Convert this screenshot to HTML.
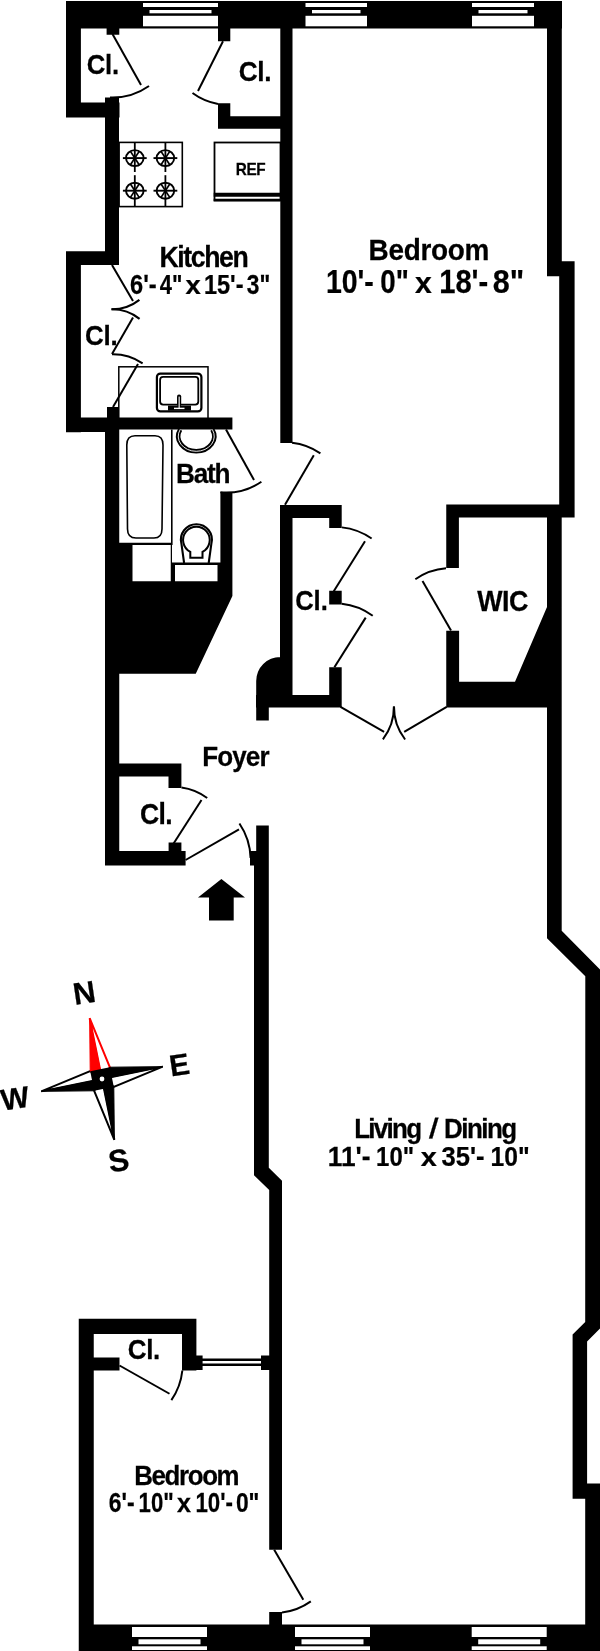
<!DOCTYPE html>
<html><head><meta charset="utf-8"><style>
html,body{margin:0;padding:0;background:#fff;}
svg{display:block;will-change:transform;}
text{font-family:"Liberation Sans",sans-serif;font-weight:bold;fill:#000;stroke:#000;stroke-width:0.25px;}
</style></head><body>
<svg width="600" height="1651" viewBox="0 0 600 1651">
<rect x="0" y="0" width="600" height="1651" fill="#fff"/>
<path d="M66.00,1.00 L562.00,1.00 L562.00,28.50 L66.00,28.50Z M66.00,1.00 L80.90,1.00 L80.90,117.50 L66.00,117.50Z M66.00,102.50 L119.50,102.50 L119.50,117.50 L66.00,117.50Z M106.60,28.00 L119.30,28.00 L119.30,34.70 L106.60,34.70Z M105.00,97.50 L119.00,97.50 L119.00,265.00 L105.00,265.00Z M66.00,251.25 L119.00,251.25 L119.00,265.00 L66.00,265.00Z M66.00,251.25 L80.90,251.25 L80.90,432.30 L66.00,432.30Z M66.00,417.50 L232.40,417.50 L232.40,429.50 L66.00,429.50Z M66.00,417.50 L119.00,417.50 L119.00,432.00 L66.00,432.00Z M107.00,407.00 L119.00,407.00 L119.00,417.50 L107.00,417.50Z M105.00,417.50 L119.25,417.50 L119.25,865.50 L105.00,865.50Z M119.00,543.00 L172.00,543.00 L172.00,562.50 L220.40,562.50 L220.40,492.00 L232.40,492.00 L232.40,596.00 L195.75,673.75 L119.00,673.75Z M218.00,28.00 L230.30,28.00 L230.30,41.20 L218.00,41.20Z M218.00,103.30 L230.30,103.30 L230.30,128.70 L218.00,128.70Z M218.00,116.20 L292.50,116.20 L292.50,128.70 L218.00,128.70Z M280.30,1.00 L292.50,1.00 L292.50,443.00 L280.30,443.00Z M280.00,505.00 L292.50,505.00 L292.50,707.50 L280.00,707.50Z M280.00,505.00 L341.70,505.00 L341.70,518.00 L280.00,518.00Z M329.20,505.00 L341.70,505.00 L341.70,528.00 L329.20,528.00Z M329.20,590.80 L341.70,590.80 L341.70,604.60 L329.20,604.60Z M329.20,667.20 L341.70,667.20 L341.70,707.50 L329.20,707.50Z M256.00,695.00 L341.70,695.00 L341.70,707.50 L256.00,707.50Z M256.2,707.5 L256.2,681 A24,24 0 0 1 280.2,657 L280.2,707.5 Z M256.20,700.00 L268.80,700.00 L268.80,720.50 L256.20,720.50Z M547.00,1.00 L561.80,1.00 L561.80,276.20 L547.00,276.20Z M559.20,261.20 L574.60,261.20 L574.60,517.50 L559.20,517.50Z M446.25,504.50 L574.40,504.50 L574.40,517.60 L446.25,517.60Z M446.25,504.50 L458.90,504.50 L458.90,568.00 L446.25,568.00Z M446.25,630.80 L459.10,630.80 L459.10,707.50 L446.25,707.50Z M446.25,681.80 L561.70,681.80 L561.70,707.50 L446.25,707.50Z M547.00,607.00 L552.00,607.00 L552.00,690.00 L515.00,690.00 L515.00,681.80Z M547.00,517.50 L561.70,517.50 L561.70,930.80 L610.00,979.50 L610.00,1318.60 L587.10,1341.50 L587.10,1483.60 L610.00,1483.60 L610.00,1651.00 L585.20,1651.00 L585.20,1498.80 L572.60,1498.80 L572.60,1334.40 L585.20,1322.10 L585.30,976.30 L547.00,938.30Z M256.20,825.50 L268.80,825.50 L268.80,1167.70 L282.00,1180.70 L282.00,1549.70 L269.20,1549.70 L269.20,1190.00 L254.00,1175.30 L254.00,865.50 L250.00,865.50 L250.00,851.00 L256.20,851.00Z M105.00,763.40 L181.40,763.40 L181.40,776.60 L105.00,776.60Z M168.50,763.40 L181.40,763.40 L181.40,788.00 L168.50,788.00Z M105.00,851.00 L185.60,851.00 L185.60,865.60 L105.00,865.60Z M168.60,842.40 L181.40,842.40 L181.40,851.00 L168.60,851.00Z M78.75,1318.75 L93.75,1318.75 L93.75,1651.00 L78.75,1651.00Z M78.75,1318.75 L196.40,1318.75 L196.40,1333.90 L78.75,1333.90Z M182.00,1318.75 L196.40,1318.75 L196.40,1370.50 L182.00,1370.50Z M182.50,1355.60 L202.60,1355.60 L202.60,1370.00 L182.50,1370.00Z M93.75,1357.50 L119.50,1357.50 L119.50,1370.50 L93.75,1370.50Z M261.00,1355.60 L269.20,1355.60 L269.20,1370.00 L261.00,1370.00Z M269.20,1370.00 L282.00,1370.00 L282.00,1549.70 L269.20,1549.70Z M202.60,1358.60 L261.00,1358.60 L261.00,1361.00 L202.60,1361.00Z M202.60,1363.60 L261.00,1363.60 L261.00,1366.00 L202.60,1366.00Z M269.20,1612.00 L282.00,1612.00 L282.00,1625.00 L269.20,1625.00Z M78.75,1624.50 L610.00,1624.50 L610.00,1651.00 L78.75,1651.00Z" fill="#000"/>
<rect x="132.50" y="545.00" width="38.25" height="36.25" fill="#fff"/>
<rect x="175.00" y="565.00" width="42.50" height="16.25" fill="#fff"/>
<rect x="143.00" y="3.00" width="75.00" height="4.00" fill="#fff"/>
<rect x="149.50" y="10.00" width="62.00" height="3.30" fill="#fff"/>
<rect x="143.00" y="15.80" width="75.00" height="10.50" fill="#fff"/>
<rect x="305.50" y="3.00" width="61.50" height="4.00" fill="#fff"/>
<rect x="312.00" y="10.00" width="48.50" height="3.30" fill="#fff"/>
<rect x="305.50" y="15.80" width="61.50" height="10.50" fill="#fff"/>
<rect x="472.00" y="3.00" width="62.00" height="4.00" fill="#fff"/>
<rect x="478.50" y="10.00" width="49.00" height="3.30" fill="#fff"/>
<rect x="472.00" y="15.80" width="62.00" height="10.50" fill="#fff"/>
<rect x="132.00" y="1627.00" width="75.00" height="10.00" fill="#fff"/>
<rect x="138.50" y="1639.30" width="62.00" height="5.00" fill="#fff"/>
<rect x="132.00" y="1646.30" width="75.00" height="3.70" fill="#fff"/>
<rect x="295.00" y="1627.00" width="75.00" height="10.00" fill="#fff"/>
<rect x="301.50" y="1639.30" width="62.00" height="5.00" fill="#fff"/>
<rect x="295.00" y="1646.30" width="75.00" height="3.70" fill="#fff"/>
<rect x="471.70" y="1627.00" width="75.00" height="10.00" fill="#fff"/>
<rect x="478.20" y="1639.30" width="62.00" height="5.00" fill="#fff"/>
<rect x="471.70" y="1646.30" width="75.00" height="3.70" fill="#fff"/>
<line x1="112.50" y1="34.00" x2="141.00" y2="85.00" stroke="#000" stroke-width="2.0"/>
<path d="M149.01,86.01 A63.54,63.54 0 0 1 110.00,97.49" fill="none" stroke="#000" stroke-width="2.0"/>
<line x1="223.00" y1="41.20" x2="198.00" y2="91.00" stroke="#000" stroke-width="2.0"/>
<path d="M192.50,93.00 A62.00,62.00 0 0 0 218.00,104.00" fill="none" stroke="#000" stroke-width="2.0"/>
<line x1="112.00" y1="265.00" x2="133.00" y2="301.00" stroke="#000" stroke-width="2.0"/>
<path d="M139.40,299.88 A44.36,44.36 0 0 1 111.50,309.35" fill="none" stroke="#000" stroke-width="2.0"/>
<path d="M111.50,309.35 A44.66,44.66 0 0 1 139.59,318.89" fill="none" stroke="#000" stroke-width="2.0"/>
<line x1="133.00" y1="317.50" x2="112.00" y2="354.00" stroke="#000" stroke-width="2.0"/>
<path d="M112.00,354.22 A52.78,52.78 0 0 1 142.63,363.31" fill="none" stroke="#000" stroke-width="2.0"/>
<line x1="138.00" y1="364.00" x2="113.00" y2="407.00" stroke="#000" stroke-width="2.0"/>
<line x1="226.00" y1="429.40" x2="254.00" y2="480.00" stroke="#000" stroke-width="2.0"/>
<path d="M261.41,481.72 A63.18,63.18 0 0 1 220.37,492.33" fill="none" stroke="#000" stroke-width="2.0"/>
<path d="M292.02,442.84 A62.55,62.55 0 0 1 320.41,453.43" fill="none" stroke="#000" stroke-width="2.0"/>
<line x1="313.80" y1="455.30" x2="285.00" y2="504.70" stroke="#000" stroke-width="2.0"/>
<path d="M341.82,527.37 A64.00,64.00 0 0 1 371.63,538.52" fill="none" stroke="#000" stroke-width="2.0"/>
<line x1="365.00" y1="541.25" x2="333.75" y2="591.25" stroke="#000" stroke-width="2.0"/>
<path d="M341.70,603.74 A63.62,63.62 0 0 1 372.73,615.78" fill="none" stroke="#000" stroke-width="2.0"/>
<line x1="365.70" y1="617.60" x2="334.40" y2="667.30" stroke="#000" stroke-width="2.0"/>
<path d="M446.02,568.30 A62.65,62.65 0 0 0 415.33,579.25" fill="none" stroke="#000" stroke-width="2.0"/>
<line x1="422.50" y1="581.00" x2="451.00" y2="630.50" stroke="#000" stroke-width="2.0"/>
<line x1="340.50" y1="706.80" x2="384.10" y2="731.80" stroke="#000" stroke-width="2.0"/>
<line x1="446.70" y1="706.80" x2="404.20" y2="731.80" stroke="#000" stroke-width="2.0"/>
<path d="M393.88,706.50 A52.88,52.88 0 0 1 382.90,739.27" fill="none" stroke="#000" stroke-width="2.0"/>
<path d="M393.99,706.50 A53.01,53.01 0 0 0 405.11,739.49" fill="none" stroke="#000" stroke-width="2.0"/>
<path d="M181.47,787.49 A55.42,55.42 0 0 1 207.19,798.02" fill="none" stroke="#000" stroke-width="2.0"/>
<line x1="201.50" y1="800.00" x2="173.60" y2="843.50" stroke="#000" stroke-width="2.0"/>
<line x1="185.60" y1="860.00" x2="239.00" y2="829.40" stroke="#000" stroke-width="2.0"/>
<path d="M239.43,823.55 A65.01,65.01 0 0 1 250.58,858.00" fill="none" stroke="#000" stroke-width="2.0"/>
<line x1="119.50" y1="1365.50" x2="169.50" y2="1393.75" stroke="#000" stroke-width="2.0"/>
<path d="M182.35,1370.48 A63.19,63.19 0 0 1 171.37,1400.08" fill="none" stroke="#000" stroke-width="2.0"/>
<line x1="274.20" y1="1549.70" x2="303.30" y2="1599.70" stroke="#000" stroke-width="2.0"/>
<path d="M310.81,1601.31 A63.27,63.27 0 0 1 282.00,1612.49" fill="none" stroke="#000" stroke-width="2.0"/>
<rect x="119.1" y="142.4" width="63.2" height="64.2" fill="none" stroke="#000" stroke-width="1.6"/>
<line x1="134.8" y1="142.4" x2="134.8" y2="172" stroke="#000" stroke-width="1.8"/>
<line x1="134.8" y1="175.2" x2="134.8" y2="206.6" stroke="#000" stroke-width="1.8"/>
<ellipse cx="134.8" cy="158.1" rx="8.8" ry="8.0" fill="none" stroke="#000" stroke-width="1.9"/>
<line x1="122.9" y1="158.1" x2="146.70000000000002" y2="158.1" stroke="#000" stroke-width="1.9"/>
<line x1="130.28" y1="151.14" x2="139.32" y2="165.06" stroke="#000" stroke-width="1.7"/>
<line x1="139.32" y1="151.14" x2="130.28" y2="165.06" stroke="#000" stroke-width="1.7"/>
<ellipse cx="134.8" cy="190.7" rx="8.8" ry="8.0" fill="none" stroke="#000" stroke-width="1.9"/>
<line x1="122.9" y1="190.7" x2="146.70000000000002" y2="190.7" stroke="#000" stroke-width="1.9"/>
<line x1="130.28" y1="183.74" x2="139.32" y2="197.66" stroke="#000" stroke-width="1.7"/>
<line x1="139.32" y1="183.74" x2="130.28" y2="197.66" stroke="#000" stroke-width="1.7"/>
<line x1="165.4" y1="142.4" x2="165.4" y2="172" stroke="#000" stroke-width="1.8"/>
<line x1="165.4" y1="175.2" x2="165.4" y2="206.6" stroke="#000" stroke-width="1.8"/>
<ellipse cx="165.4" cy="158.1" rx="8.8" ry="8.0" fill="none" stroke="#000" stroke-width="1.9"/>
<line x1="153.5" y1="158.1" x2="177.3" y2="158.1" stroke="#000" stroke-width="1.9"/>
<line x1="160.88" y1="151.14" x2="169.92" y2="165.06" stroke="#000" stroke-width="1.7"/>
<line x1="169.92" y1="151.14" x2="160.88" y2="165.06" stroke="#000" stroke-width="1.7"/>
<ellipse cx="165.4" cy="190.7" rx="8.8" ry="8.0" fill="none" stroke="#000" stroke-width="1.9"/>
<line x1="153.5" y1="190.7" x2="177.3" y2="190.7" stroke="#000" stroke-width="1.9"/>
<line x1="160.88" y1="183.74" x2="169.92" y2="197.66" stroke="#000" stroke-width="1.7"/>
<line x1="169.92" y1="183.74" x2="160.88" y2="197.66" stroke="#000" stroke-width="1.7"/>
<rect x="214.5" y="142.5" width="66" height="58" fill="none" stroke="#000" stroke-width="1.8"/>
<rect x="118.8" y="366.8" width="89.2" height="52" fill="none" stroke="#000" stroke-width="1.5"/>
<rect x="156.9" y="373.6" width="44.5" height="37.8" rx="3.5" fill="none" stroke="#000" stroke-width="2.2"/>
<rect x="160.1" y="376.9" width="38.2" height="27.7" rx="3" fill="none" stroke="#000" stroke-width="1.8"/>
<rect x="168" y="405.6" width="23" height="5" fill="#000"/>
<rect x="177" y="394.5" width="4.2" height="12" rx="2" fill="#000"/>
<rect x="174" y="407.7" width="10.5" height="1.4" fill="#fff"/>
<rect x="178.6" y="396.6" width="1.1" height="11.5" fill="#fff"/>
<line x1="171.8" y1="429.5" x2="171.8" y2="545" stroke="#000" stroke-width="1.6"/>
<path d="M135,435.8 L155,435.8 Q163,435.8 163,445 L162,529 Q162,538 154,538 L136,538 Q127.5,538 127.5,529 L126.8,445 Q126.8,435.8 135,435.8 Z" fill="none" stroke="#000" stroke-width="1.6"/>
<line x1="118.75" y1="543.5" x2="172" y2="543.5" stroke="#000" stroke-width="1.5"/>
<path d="M180.15,429.6 A18,15 0 1 0 212.35,429.6" fill="none" stroke="#000" stroke-width="4.6"/>
<path d="M180.15,429.6 A18,15 0 1 0 212.35,429.6" fill="none" stroke="#fff" stroke-width="0.9"/>
<path d="M184.1,563 L181.43,543.71 A15.5,15.5 0 1 1 211.37,543.71 L208.7,563" fill="none" stroke="#000" stroke-width="2.1"/>
<path d="M190.30,551.82 A13.3,13.3 0 1 1 202.50,551.82 L202.50,557.8 L190.3,557.8 Z" fill="#fff" stroke="#000" stroke-width="2.0"/>
<path d="M213.70,192.75 L280.30,192.75 L280.30,196.80 L213.70,196.80Z M213.70,198.75 L280.30,198.75 L280.30,201.30 L213.70,201.30Z M221.40,879.00 L245.00,897.50 L233.70,897.50 L233.70,920.40 L209.00,920.40 L209.00,897.50 L198.00,897.50Z" fill="#000"/>
<polygon points="102.00,1079.00 89.64,1018.24 109.81,1067.21" fill="#fff" stroke="#f00" stroke-width="2.0" stroke-linejoin="miter"/>
<polygon points="102.00,1079.00 162.76,1066.64 113.79,1086.81" fill="#fff" stroke="#000" stroke-width="2.0" stroke-linejoin="miter"/>
<polygon points="102.00,1079.00 114.36,1139.76 94.19,1090.79" fill="#fff" stroke="#000" stroke-width="2.0" stroke-linejoin="miter"/>
<polygon points="102.00,1079.00 41.24,1091.36 90.21,1071.19" fill="#fff" stroke="#000" stroke-width="2.0" stroke-linejoin="miter"/>
<polygon points="102.00,1079.00 89.64,1018.24 90.21,1071.19" fill="#f00" stroke="#f00" stroke-width="1" stroke-linejoin="miter"/>
<polygon points="102.00,1079.00 162.76,1066.64 109.81,1067.21" fill="#000" stroke="#000" stroke-width="1" stroke-linejoin="miter"/>
<polygon points="102.00,1079.00 114.36,1139.76 113.79,1086.81" fill="#000" stroke="#000" stroke-width="1" stroke-linejoin="miter"/>
<polygon points="102.00,1079.00 41.24,1091.36 94.19,1090.79" fill="#000" stroke="#000" stroke-width="1" stroke-linejoin="miter"/>
<polygon points="90.21,1071.19 109.81,1067.21 113.79,1086.81 94.19,1090.79" fill="#000"/>
<circle cx="102" cy="1079" r="2.4" fill="#fff"/>
<g transform="translate(84.3 992.7) rotate(-8.5)"><text x="0" y="10.69" font-size="31" text-anchor="middle">N</text></g>
<g transform="translate(179.3 1064.7) rotate(-8.5)"><text x="0" y="10.35" font-size="30" text-anchor="middle">E</text></g>
<g transform="translate(15 1098.5) rotate(-8.5)"><text x="0" y="10.35" font-size="30" text-anchor="middle">W</text></g>
<g transform="translate(118.7 1160.5) rotate(-8.5)"><text x="0" y="10.69" font-size="31" text-anchor="middle">S</text></g>
<text transform="translate(87.70 74.00) scale(0.9200 1)" x="-1.12" y="0" font-size="28.00" letter-spacing="-0.29">Cl.</text>
<text transform="translate(239.80 80.70) scale(0.9200 1)" x="-1.14" y="0" font-size="28.50" letter-spacing="-0.37">Cl.</text>
<text transform="translate(236.80 174.75) scale(0.9200 1)" x="-1.17" y="0" font-size="16.70" letter-spacing="-0.46">REF</text>
<text transform="translate(161.30 266.60) scale(0.9200 1)" x="-2.03" y="0" font-size="29.00" letter-spacing="-1.54">Kitchen</text>
<text transform="translate(131.00 294.40) scale(0.8435 1)" x="-1.12" y="0" font-size="28.00">6'-</text>
<text transform="translate(160.20 294.40) scale(0.7827 1)" x="-0.56" y="0" font-size="28.00">4&quot;</text>
<text transform="translate(185.80 294.40) scale(1.0525 1)" x="-0.26" y="0" font-size="26.04">x</text>
<text transform="translate(205.30 294.40) scale(0.8409 1)" x="-1.68" y="0" font-size="28.00">15'-</text>
<text transform="translate(247.30 294.40) scale(0.8131 1)" x="-0.56" y="0" font-size="28.00">3&quot;</text>
<text transform="translate(370.50 259.50) scale(0.9200 1)" x="-2.13" y="0" font-size="30.40" letter-spacing="-0.32">Bedroom</text>
<text transform="translate(327.60 292.80) scale(0.8818 1)" x="-1.94" y="0" font-size="32.30">10'-</text>
<text transform="translate(381.40 292.80) scale(0.8581 1)" x="-1.29" y="0" font-size="32.30">0&quot;</text>
<text transform="translate(415.30 292.80) scale(1.0049 1)" x="-0.30" y="0" font-size="30.04">x</text>
<text transform="translate(441.00 292.80) scale(0.9014 1)" x="-1.94" y="0" font-size="32.30">18'-</text>
<text transform="translate(493.60 292.80) scale(0.9454 1)" x="-0.97" y="0" font-size="32.30">8&quot;</text>
<text transform="translate(86.00 345.40) scale(0.9200 1)" x="-1.13" y="0" font-size="28.20" letter-spacing="-0.19">Cl.</text>
<text transform="translate(177.90 483.00) scale(0.9200 1)" x="-1.99" y="0" font-size="28.50" letter-spacing="-1.38">Bath</text>
<text transform="translate(296.25 610.10) scale(0.9200 1)" x="-1.11" y="0" font-size="27.80" letter-spacing="-0.09">Cl.</text>
<text transform="translate(477.20 611.00) scale(0.9200 1)" x="0.00" y="0" font-size="29.20" letter-spacing="-0.60">WIC</text>
<text transform="translate(204.00 765.70) scale(0.9200 1)" x="-1.98" y="0" font-size="28.30" letter-spacing="-0.96">Foyer</text>
<text transform="translate(141.00 824.20) scale(0.9200 1)" x="-1.16" y="0" font-size="28.90" letter-spacing="-0.71">Cl.</text>
<text transform="translate(356.00 1137.60) scale(0.9200 1)" x="-1.98" y="0" font-size="28.30" letter-spacing="-1.88">Living</text>
<text x="428.7" y="1137.6" font-size="28.3" transform="translate(428.7 1137.6) skewX(-6) translate(-428.7 -1137.6)">/</text>
<text transform="translate(445.80 1137.60) scale(0.9200 1)" x="-1.98" y="0" font-size="28.30" letter-spacing="-1.70">Dining</text>
<text transform="translate(329.40 1166.40) scale(0.9219 1)" x="-1.71" y="0" font-size="28.50">11'-</text>
<text transform="translate(377.50 1166.40) scale(0.8411 1)" x="-1.71" y="0" font-size="28.50">10&quot;</text>
<text transform="translate(421.00 1166.40) scale(1.0899 1)" x="-0.27" y="0" font-size="26.51">x</text>
<text transform="translate(442.00 1166.40) scale(0.8967 1)" x="-0.57" y="0" font-size="28.50">35'-</text>
<text transform="translate(492.00 1166.40) scale(0.8652 1)" x="-1.71" y="0" font-size="28.50">10&quot;</text>
<text transform="translate(128.75 1358.50) scale(0.9200 1)" x="-1.13" y="0" font-size="28.30" letter-spacing="-0.39">Cl.</text>
<text transform="translate(136.00 1485.30) scale(0.9200 1)" x="-1.97" y="0" font-size="28.10" letter-spacing="-1.45">Bedroom</text>
<text transform="translate(109.70 1511.70) scale(0.8312 1)" x="-1.10" y="0" font-size="27.50">6'-</text>
<text transform="translate(139.90 1511.70) scale(0.8070 1)" x="-1.65" y="0" font-size="27.50">10&quot;</text>
<text transform="translate(177.20 1511.70) scale(0.9811 1)" x="-0.26" y="0" font-size="25.58">x</text>
<text transform="translate(196.75 1511.70) scale(0.8113 1)" x="-1.65" y="0" font-size="27.50">10'-</text>
<text transform="translate(236.80 1511.70) scale(0.8300 1)" x="-1.10" y="0" font-size="27.50">0&quot;</text>
</svg>
</body></html>
